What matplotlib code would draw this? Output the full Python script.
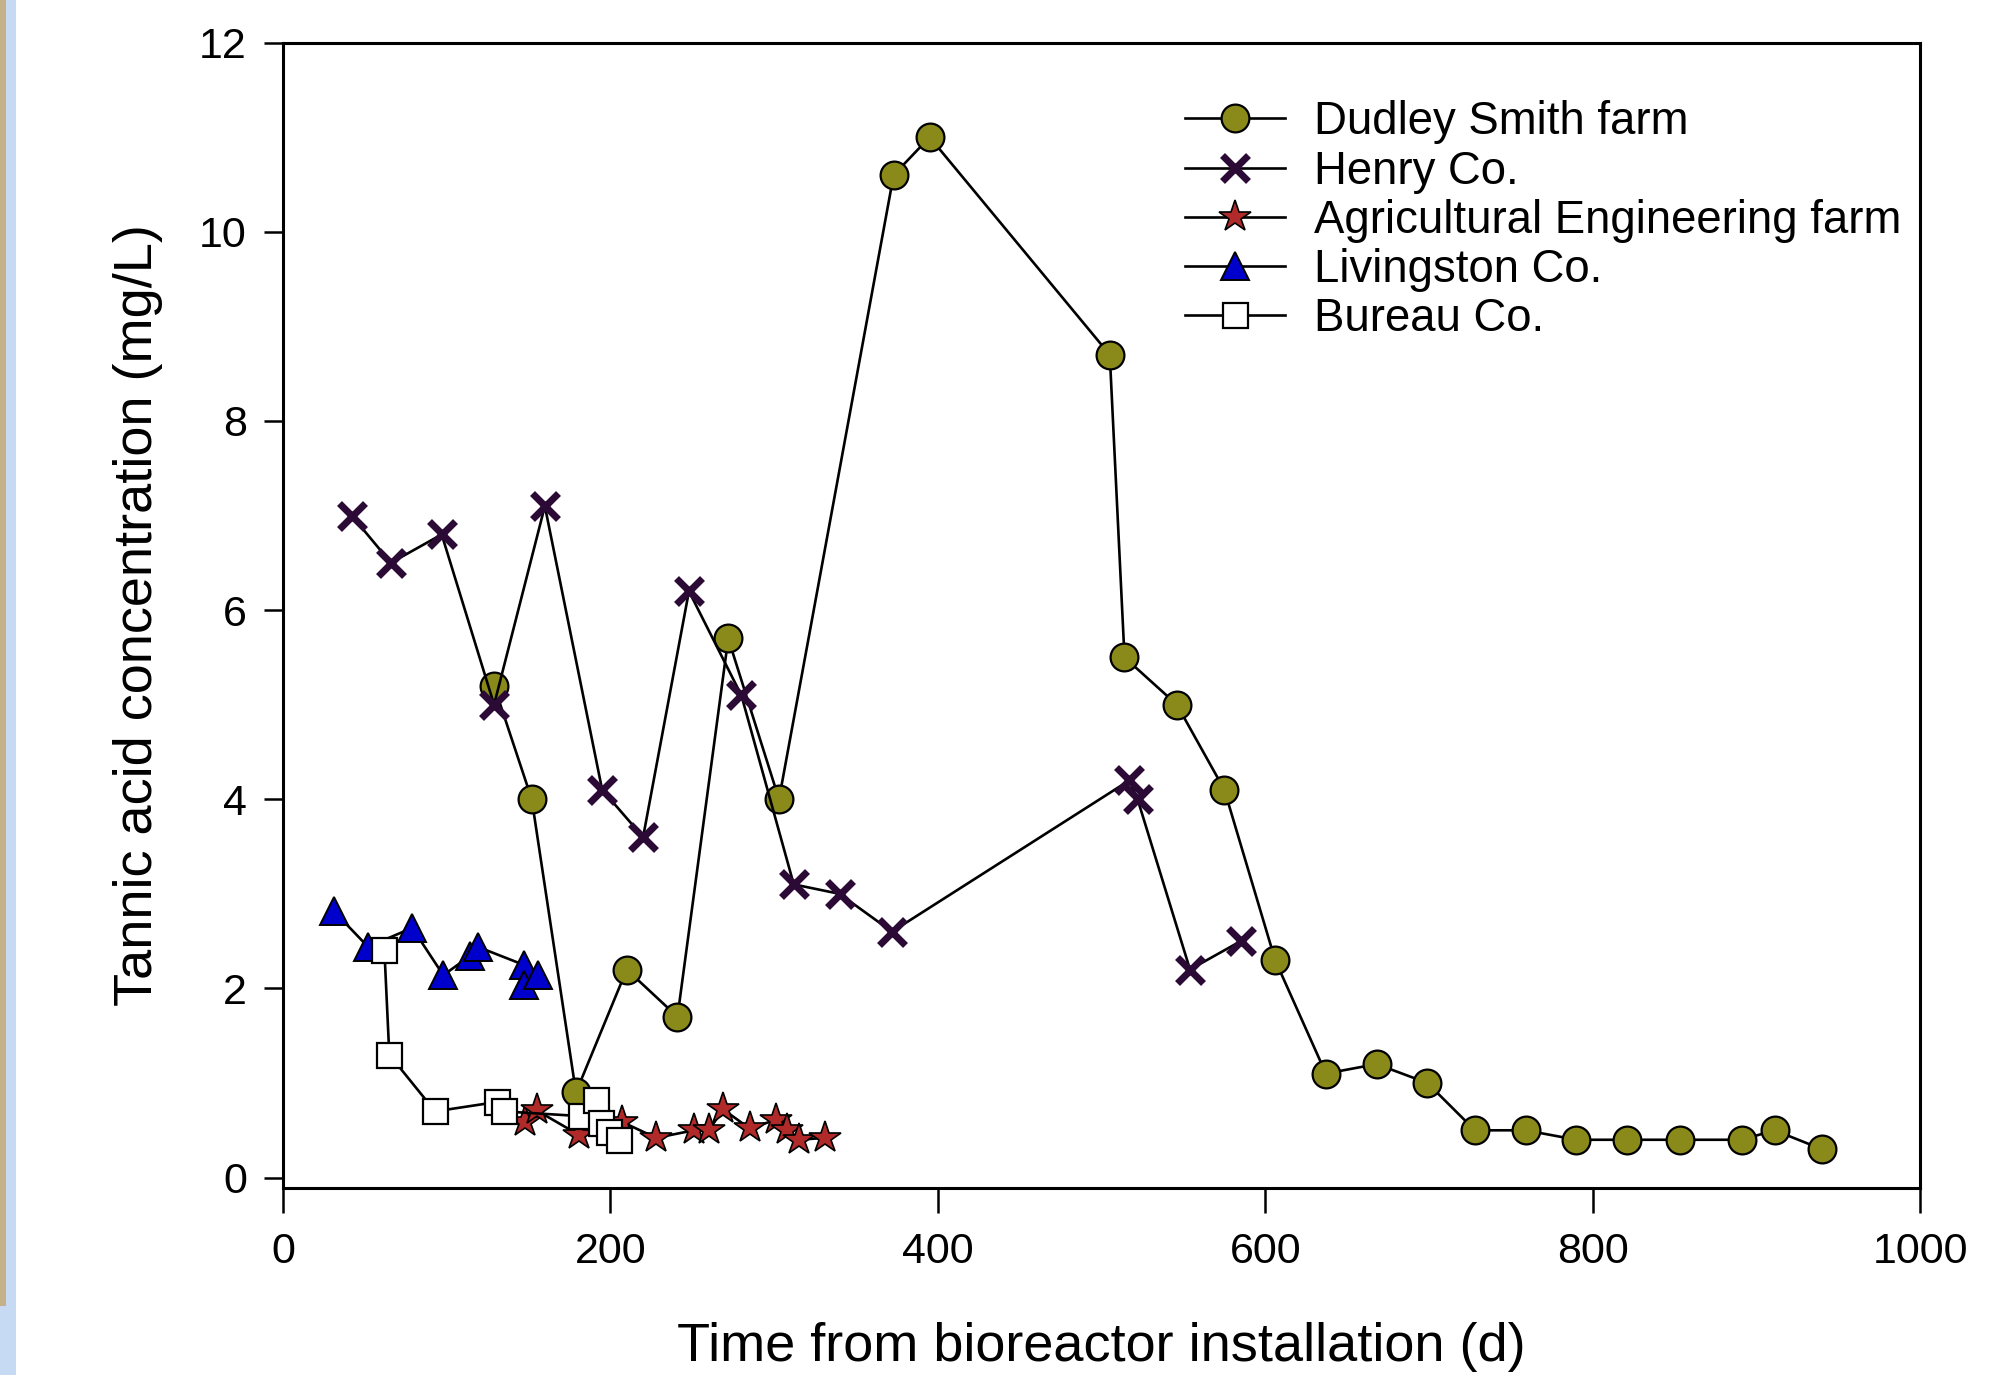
import matplotlib
matplotlib.use("Agg")
import matplotlib.pyplot as plt
from matplotlib.patches import Rectangle

plt.rcParams['font.family'] = ['Liberation Sans', 'DejaVu Sans']

# Dudley Smith farm
dudley_x = [129, 152, 179, 210, 241, 272, 303, 373, 395, 505, 514, 546, 575,
            606, 637, 668, 699, 728, 759, 790, 821, 853, 891, 911, 940]
dudley_y = [5.2, 4.0, 0.9, 2.2, 1.7, 5.7, 4.0, 10.6, 11.0, 8.7, 5.5, 5.0, 4.1,
            2.3, 1.1, 1.2, 1.0, 0.5, 0.5, 0.4, 0.4, 0.4, 0.4, 0.5, 0.3]

# Henry Co.
henry_x = [42, 66, 97, 129, 160, 195, 220, 248, 280, 312, 340, 372, 517, 522, 554, 585]
henry_y = [7.0, 6.5, 6.8, 5.0, 7.1, 4.1, 3.6, 6.2, 5.1, 3.1, 3.0, 2.6, 4.2, 4.0, 2.2, 2.5]

# Agricultural Engineering farm
agri_x = [148, 155, 181, 207, 228, 251, 260, 269, 285, 301, 308, 315, 331]
agri_y = [0.59, 0.71, 0.45, 0.59, 0.42, 0.50, 0.50, 0.72, 0.52, 0.61, 0.50, 0.40, 0.42]

# Livingston Co.
liv_x = [31, 52, 79, 98, 114, 119, 147, 147, 156]
liv_y = [2.82, 2.44, 2.64, 2.14, 2.34, 2.44, 2.25, 2.04, 2.14]

# Bureau Co.
bureau_x = [62, 65, 93, 131, 135, 182, 191, 194, 199, 205]
bureau_y = [2.41, 1.30, 0.70, 0.80, 0.70, 0.65, 0.82, 0.58, 0.48, 0.40]

labels = ["Dudley Smith farm", "Henry Co.", "Agricultural Engineering farm",
          "Livingston Co.", "Bureau Co."]

fig = plt.figure(figsize=(19.92, 13.75), dpi=100)

# coloured strip at the left edge of the original screenshot
fig.patches.append(Rectangle((0, 0), 16 / 1992, 1, transform=fig.transFigure,
                             facecolor='#c6daf4', edgecolor='none'))
fig.patches.append(Rectangle((0, 0.05), 6 / 1992, 0.95, transform=fig.transFigure,
                             facecolor='#c4b18a', edgecolor='none'))

ax = fig.add_axes([0.142, 0.136, 0.822, 0.833])

lw = 1.9
ax.plot(dudley_x, dudley_y, color='black', lw=lw, marker='o', ms=20,
        mfc='#8a8a1a', mec='black', mew=1.6, label=labels[0])
ax.plot(henry_x, henry_y, color='black', lw=lw, marker='x', ms=19,
        mec='#2b0b35', mew=5, label=labels[1])
ax.plot(agri_x, agri_y, color='black', lw=lw, marker='*', ms=24,
        mfc='#b02a2a', mec='black', mew=1.2, label=labels[2])
ax.plot(liv_x, liv_y, color='black', lw=lw, marker='^', ms=20,
        mfc='#0000cc', mec='black', mew=1.4, label=labels[3])
ax.plot(bureau_x, bureau_y, color='black', lw=lw, marker='s', ms=18,
        mfc='white', mec='black', mew=1.6, label=labels[4])

ax.set_xlim(0, 1000)
ax.set_ylim(-0.11, 12)
ax.set_xticks([0, 200, 400, 600, 800, 1000])
ax.set_yticks([0, 2, 4, 6, 8, 10, 12])

for s in ax.spines.values():
    s.set_linewidth(2.2)
ax.tick_params(axis='both', direction='out', labelsize=31, width=1.8)
ax.tick_params(axis='x', length=18, pad=14)
ax.tick_params(axis='y', length=14, pad=12)

ax.set_xlabel('Time from bioreactor installation (d)', fontsize=39, labelpad=36)
ax.set_ylabel('Tannic acid concentration (mg/L)', fontsize=39, labelpad=26)

ax.legend(loc='upper left', bbox_to_anchor=(0.595, 0.927),
          bbox_transform=fig.transFigure, frameon=False, fontsize=32.8,
          handlelength=2.2, handletextpad=0.62, labelspacing=0.115,
          borderpad=0, borderaxespad=0)

fig.savefig('out.png', dpi=100)
